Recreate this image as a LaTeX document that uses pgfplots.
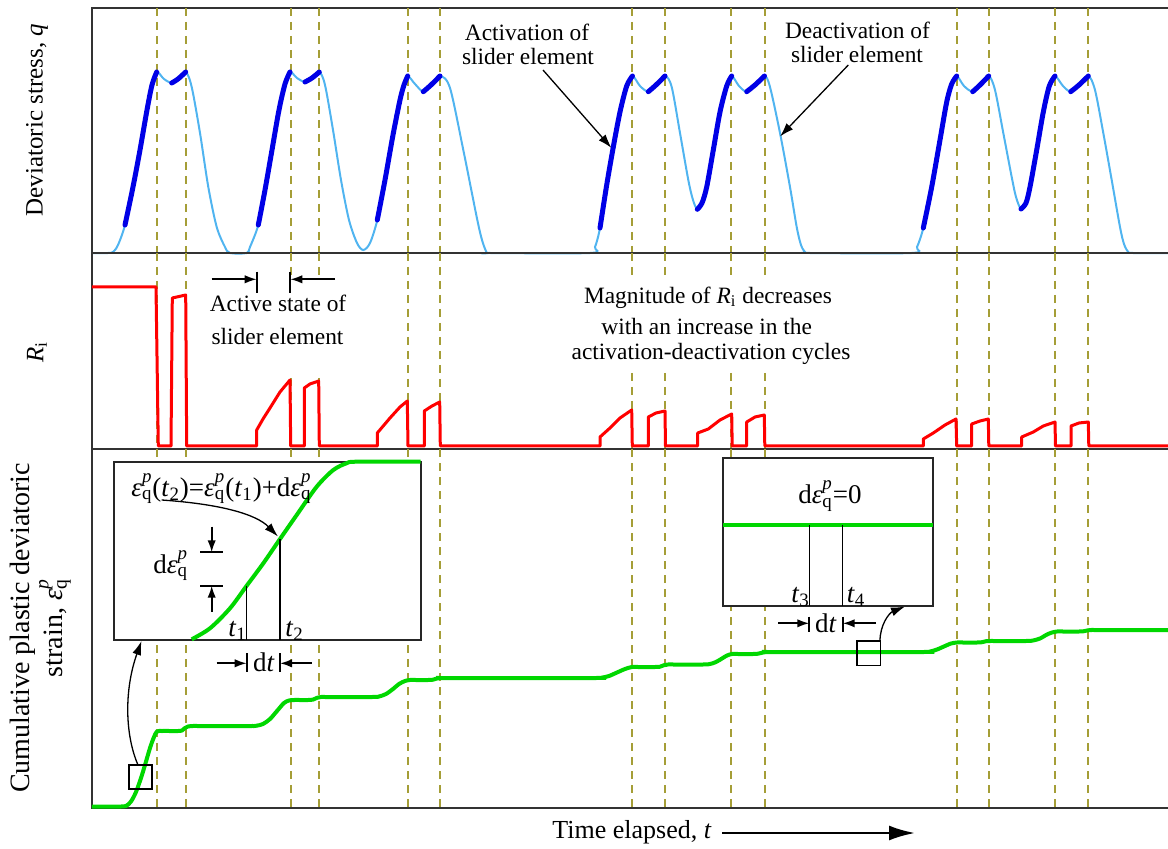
\documentclass[border=0pt]{standalone}
\usepackage{fontspec}
\setmainfont{Liberation Serif}
\usepackage{amsmath}
\usepackage{pgfplots}
\pgfplotsset{compat=1.18}
\usetikzlibrary{arrows.meta}
\definecolor{lblue}{RGB}{80,180,240}
\definecolor{dblue}{RGB}{0,0,230}
\definecolor{oliv}{RGB}{165,158,55}
\definecolor{grn}{RGB}{0,215,0}
\newcommand{\eps}{\textit{ε}}
\newcommand{\epq}{\eps$^{\textit{p}}_{\text{q}}$}
\newcommand{\tsub}[1]{\textit{t}$_{\text{#1}}$}
\pgfplotsset{
  panel/.style={scale only axis, width=540pt, xmin=92, xmax=1172, y dir=reverse,
    xtick=\empty, ytick=\empty, clip=false,
    axis line style={black!80, line width=0.9pt}},
  dl/.style={oliv, line width=0.9pt, dash pattern=on 4pt off 3pt},
  thn/.style={lblue, line width=1pt, smooth, tension=0.5},
  thk/.style={dblue, line width=2.5pt, smooth, tension=0.5, line cap=round},
}
\tikzset{
  ann/.style={black, line width=0.6pt},
  bar/.style={black, line width=0.9pt},
  af/.style={font=\fontsize{11.7}{14}\selectfont, inner sep=0pt, anchor=base},
  mf/.style={font=\fontsize{13.5}{16}\selectfont, inner sep=0pt},
  arr/.style={-{Latex[length=7pt,width=4.5pt]}, black, line width=0.65pt},
  sarr/.style={-{Latex[length=6pt,width=4.2pt]}, black, line width=0.9pt},
}
\begin{document}
\begin{tikzpicture}
% ---------------- top panel: deviatoric stress ----------------
\begin{axis}[panel, at={(46pt,-4pt)}, anchor=north west, height=122.5pt, ymin=8, ymax=253]
\pgfplotsinvokeforeach{157,186,291,319,408,440,632,665,731,765,957,989,1055,1088}{
  \addplot[dl] coordinates {(#1,8) (#1,253)};}
\addplot[thn] coordinates {
(92,253)(108,253)(113,252)
(118,245)(125,225)(133,187)(140,150)(147,110)(152,85)(156.7,72)
(164,79)(171.7,83)(178,79)(185.7,72)
(191.7,87)(200,133)(208.3,187)(216.7,227)(225,247)(230,253)(246.7,253)
(250,247)(258.3,225)(265,190)(272,150)(279,110)(285,84)(290,72)
(297,78)(305,82)(312,78)(319.3,72)
(325,85)(333,130)(341,180)(349,220)(357,243)(363.3,250)
(370,243)(377.3,220)(385,180)(393,135)(400,100)(404,85)(407.7,76)
(415,84)(423.3,91.7)(431,85)(440,76)
(450,88)(463.3,150)(476.7,217)(482,240)(486.7,252.5)(490,253)(590,253)
(595,247)(600,228)(606.7,185)(613.3,147)(620,112)(626.7,86)(632.5,76)
(640,86)(648.3,91.7)(656,85)(665,76)
(671.7,87)(680,133)(688.3,180)(693,200)(697.3,209.3)
(702,203)(706.7,187)(713.3,150)(720,112)(726.7,86)(731.7,76)
(739,86)(746.7,91.7)(755,85)(764.5,76)
(770,87)(780,133)(790,187)(796.7,227)(801,245)(805,252)(810,253)(911.7,253)
(917,247)(923.3,228)(931.7,187)(940,140)(946.7,102)(951.7,84)(956.7,76)
(964,86)(972.7,91.7)(980,85)(988.7,76)
(995,90)(1003.3,133)(1011.7,177)(1016,197)(1021,209)
(1026,203)(1030,187)(1036.7,150)(1043.3,112)(1049.3,86)(1055,76)
(1063,86)(1070.7,91.7)(1079,85)(1088.3,76)
(1095,90)(1103.3,133)(1111.7,180)(1120,227)(1124,244)(1128.3,252)(1133,253)(1172,253)};
% thick (active) segments
\addplot[thk] coordinates {(125,225)(133,187)(140,150)(147,110)(152,85)(156.7,72)};
\addplot[thk] coordinates {(171.7,83)(178,79)(185.7,72)};
\addplot[thk] coordinates {(258.3,225)(265,190)(272,150)(279,110)(285,84)(290,72)};
\addplot[thk] coordinates {(305,82)(312,78)(319.3,72)};
\addplot[thk] coordinates {(377.3,220)(385,180)(393,135)(400,100)(404,85)(407.7,76)};
\addplot[thk] coordinates {(423.3,91.7)(431,85)(440,76)};
\addplot[thk] coordinates {(600,228)(606.7,185)(613.3,147)(620,112)(626.7,86)(632.5,76)};
\addplot[thk] coordinates {(648.3,91.7)(656,85)(665,76)};
\addplot[thk] coordinates {(697.3,209.3)(702,203)(706.7,187)(713.3,150)(720,112)(726.7,86)(731.7,76)};
\addplot[thk] coordinates {(746.7,91.7)(755,85)(764.5,76)};
\addplot[thk] coordinates {(923.3,228)(931.7,187)(940,140)(946.7,102)(951.7,84)(956.7,76)};
\addplot[thk] coordinates {(972.7,91.7)(980,85)(988.7,76)};
\addplot[thk] coordinates {(1021,209)(1026,203)(1030,187)(1036.7,150)(1043.3,112)(1049.3,86)(1055,76)};
\addplot[thk] coordinates {(1070.7,91.7)(1079,85)(1088.3,76)};
% annotations
\node[af] at (527,40.5) {Activation of};
\node[af] at (528,65) {slider element};
\draw[arr] (543,70) -- (611.5,148);
\node[af] at (857.5,38.5) {Deactivation of};
\node[af] at (857,62.7) {slider element};
\draw[arr] (848.3,65) -- (780,136.5);
\node[rotate=90, font=\fontsize{12.5}{15}\selectfont] at (37,120) {Deviatoric stress, \textit{q}};
\end{axis}
% ---------------- middle panel: R_i ----------------
\begin{axis}[panel, at={(46pt,-126.5pt)}, anchor=north west, height=98pt, ymin=253, ymax=449]
\pgfplotsinvokeforeach{157,186,408,440,957,989,1055,1088}{
  \addplot[dl] coordinates {(#1,253) (#1,449)};}
\pgfplotsinvokeforeach{291,319}{
  \addplot[dl] coordinates {(#1,253) (#1,275)};
  \addplot[dl] coordinates {(#1,378) (#1,449)};}
\pgfplotsinvokeforeach{632,665,731,765}{
  \addplot[dl] coordinates {(#1,253) (#1,277)};
  \addplot[dl] coordinates {(#1,373) (#1,449)};}
\addplot[red, line width=1.5pt, line join=round] coordinates {
(92,287)(156,287)(158.3,446)(171,446)(172.3,298)(185.7,295)(186.7,446)
(256.7,446)(256.7,430)(263,419)(270,408)(280,392)(290,380)(290.7,446)
(304.3,446)(304.3,388)(310,384)(318.7,381)(319.3,446)
(377.3,446)(377.3,433)(390,418)(400,407)(407.3,401)(408,446)
(424.3,446)(424.3,411)(432,406)(439.7,402)(440.3,446)
(600,446)(600,437)(610,428)(620,418)(631.7,410)(632.3,446)
(648.3,446)(648.3,417)(656,413)(665,411)(665.5,446)
(697.7,446)(697.7,433)(708.3,429)(720,420)(731.7,414)(732.2,446)
(746.7,446)(746.7,422)(755,417)(764.3,415)(764.8,446)
(923.3,446)(923.3,439)(933.3,433)(945,425)(956,419)(956.7,446)
(971.7,446)(971.7,424)(980,421)(988.3,419)(988.8,446)
(1021.7,446)(1021.7,437)(1033.3,432)(1043.3,426)(1055,422)(1055.5,446)
(1071,446)(1071,426)(1079,423)(1088.3,422)(1088.8,446)
(1172,446)};
% active state annotation
\draw[sarr] (211.7,279.3) -- (256.7,279.3);
\draw[bar] (256.7,271.7) -- (256.7,292.7);
\draw[sarr] (335,279.3) -- (290.3,279.3);
\draw[bar] (290.3,271.7) -- (290.3,292.7);
\node[af] at (278,311.7) {Active state of};
\node[af] at (277.5,344.3) {slider element};
\node[af] at (708,303.3) {Magnitude of \textit{R}$_{\text{i}}$ decreases};
\node[af] at (706.7,335) {with an increase in the};
\node[af] at (711,360) {activation-deactivation cycles};
\node[rotate=90, font=\fontsize{12.5}{15}\selectfont] at (37,352) {\textit{R}$_{\text{i}}$};
\end{axis}
% ---------------- bottom panel: plastic strain ----------------
\begin{axis}[panel, at={(46pt,-224.5pt)}, anchor=north west, height=179.5pt, ymin=449, ymax=808]
\pgfplotsinvokeforeach{157,186,291,319,408,440,632,665,731,765,957,989,1055,1088}{
  \addplot[dl] coordinates {(#1,449) (#1,808)};}
\addplot[grn, line width=2pt, smooth, tension=0.5] coordinates {
(92,806.5)(112,806.5)(120,806.5)(126,806)(131,801.5)(136,792)(141,778)(145,765)(150,748)(154,737)(157,731.5)(162,731)(170,731)
(178,731)(182,730.5)(185,728)(188,726.5)(193,726)(200,726)
(250,726)(256,725.8)(263,724)(270,719)(277,711)(284,703)(289,700.5)(294,700)(300,700)
(308,700)(313,699.6)(317,697.8)(321,697)(327,697)
(372,697)(379,696.5)(386,694)(393,689)(399,684)(405,681)(410,680)(416,680)
(428,680)(433,679.7)(437,678.5)(441,678)(447,678)
(595,678)(602,677.6)(609,676)(617,672.5)(625,669)(632,667)(638,667)
(655,667)(660,666.7)(664,665.2)(668,664.5)(674,664.5)
(703,664.5)(710,664)(716,662)(722,658.5)(727,655.5)(732,654)(738,654)
(753,654)(758,653.7)(763,652.5)(767,652)(773,652)
(923,652)(930,651.5)(937,649.5)(945,646)(951,643.5)(957,642.5)(963,642.5)
(977,642.5)(982,642.2)(986,641.2)(990,641)(996,641)
(1026,641)(1033,640.5)(1040,638.5)(1047,634.5)(1052,632.5)(1057,631.5)(1063,631.5)
(1079,631.5)(1084,631.2)(1088,630.3)(1092,630)(1098,630)(1172,630)};
% small zoom boxes
\draw[black, line width=0.9pt] (128.7,765) rectangle (152,789.3);
\draw[black, line width=0.9pt] (857,641) rectangle (880.4,665.4);
\draw[arr] (138,765) .. controls (125,735) and (124,690) .. (141.5,641);
\draw[arr] (880,641) .. controls (880,625) and (889,613) .. (905,606.5);
% inset 1
\draw[black!85, line width=0.9pt, fill=white] (114,461.7) rectangle (420.7,640);
\addplot[grn, line width=2pt, smooth, tension=0.5] coordinates {
(191.7,639.3)(210,628.3)(230,608.3)(246.7,585.7)(263.3,563.3)(280,539)(296.7,515)(316.7,486.7)(333.3,470)(346.7,463.2)(356.7,461.7)(420.7,461.7)};
\draw[ann, line width=0.7pt] (246.7,585.7) -- (246.7,640);
\draw[ann, line width=0.7pt] (280,539) -- (280,640);
\node[mf, anchor=base west] at (228,636.5) {\tsub{1}};
\node[mf, anchor=base west] at (285,636.5) {\tsub{2}};
\node[mf, anchor=base west] at (131,496) {\epq(\tsub{2})=\epq(\tsub{1})+d\epq};
\draw[arr] (161.7,500) .. controls (220,504) and (256,514) .. (278,536.5);
\draw[bar] (200,552.3) -- (223,552.3);
\draw[bar] (200,585.7) -- (223,585.7);
\draw[sarr] (211.7,526.7) -- (211.7,552.3);
\draw[sarr] (211.7,611.7) -- (211.7,585.7);
\node[mf, anchor=base west] at (153,573) {d\epq};
\draw[sarr] (216.7,663.3) -- (246.7,663.3);
\draw[bar] (246.7,653) -- (246.7,672);
\draw[sarr] (311.7,663.3) -- (280,663.3);
\draw[bar] (280,653) -- (280,672);
\node[mf, anchor=base] at (264,671.5) {d\textit{t}};
% inset 2
\draw[black!85, line width=0.9pt, fill=white] (723.3,458.3) rectangle (933.3,605.7);
\addplot[grn, line width=2pt] coordinates {(723.3,525)(933.3,525)};
\draw[ann, line width=0.7pt] (809.3,525) -- (809.3,605.7);
\draw[ann, line width=0.7pt] (842.7,525) -- (842.7,605.7);
\node[mf, anchor=base] at (830,503.3) {d\epq=0};
\node[mf, anchor=base west] at (791,602) {\tsub{3}};
\node[mf, anchor=base west] at (846.5,602) {\tsub{4}};
\draw[sarr] (778,623.3) -- (809.3,623.3);
\draw[bar] (809.3,616.7) -- (809.3,631.7);
\draw[sarr] (876,623.3) -- (842.7,623.3);
\draw[bar] (842.7,616.7) -- (842.7,631.7);
\node[mf, anchor=base] at (826,632.5) {d\textit{t}};
% labels
\node[rotate=90, align=center, font=\fontsize{14}{16.5}\selectfont] at (40.5,628) {Cumulative plastic deviatoric\\strain, \epq};
\node[font=\fontsize{13}{15}\selectfont] at (632,832) {Time elapsed, \textit{t}};
\draw[-{Latex[length=13pt,width=7.5pt]}, black, line width=1.2pt] (722,833) -- (915,833);
\end{axis}
\pgfresetboundingbox
\useasboundingbox (0,0) rectangle (584pt,-424.5pt);
\end{tikzpicture}
\end{document}
